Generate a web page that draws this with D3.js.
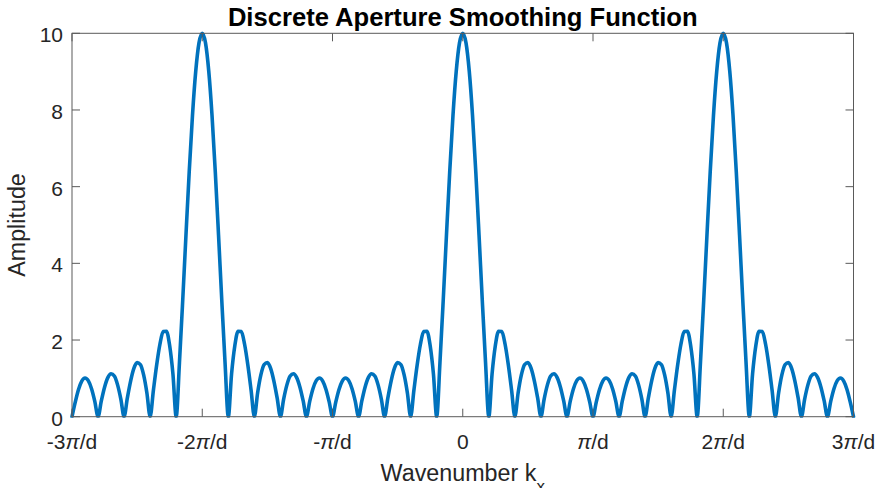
<!DOCTYPE html>
<html>
<head>
<meta charset="utf-8">
<script src="https://cdn.jsdelivr.net/npm/d3@7"></script>
<style>
  html, body { margin: 0; padding: 0; background: #ffffff; }
  svg { display: block; }
  text { font-family: "Liberation Sans", Arial, Helvetica, sans-serif; fill: #262626; }
</style>
</head>
<body>
<svg id="chart" width="884" height="488"></svg>
<script>
// Wavenumber sample positions, in units of pi/d
const kx = [
  -3, -2.975, -2.95, -2.925, -2.9, -2.875, -2.85, -2.825, -2.8, -2.775, -2.75, -2.725, -2.7, -2.675, -2.65, -2.625, -2.6, -2.575, -2.55, -2.525,
  -2.5, -2.475, -2.45, -2.425, -2.4, -2.375, -2.35, -2.325, -2.3, -2.275, -2.25, -2.225, -2.2, -2.175, -2.15, -2.125, -2.1, -2.075, -2.05, -2.025,
  -2, -1.975, -1.95, -1.925, -1.9, -1.875, -1.85, -1.825, -1.8, -1.775, -1.75, -1.725, -1.7, -1.675, -1.65, -1.625, -1.6, -1.575, -1.55, -1.525,
  -1.5, -1.475, -1.45, -1.425, -1.4, -1.375, -1.35, -1.325, -1.3, -1.275, -1.25, -1.225, -1.2, -1.175, -1.15, -1.125, -1.1, -1.075, -1.05, -1.025,
  -1, -0.975, -0.95, -0.925, -0.9, -0.875, -0.85, -0.825, -0.8, -0.775, -0.75, -0.725, -0.7, -0.675, -0.65, -0.625, -0.6, -0.575, -0.55, -0.525,
  -0.5, -0.475, -0.45, -0.425, -0.4, -0.375, -0.35, -0.325, -0.3, -0.275, -0.25, -0.225, -0.2, -0.175, -0.15, -0.125, -0.1, -0.075, -0.05, -0.025,
  0, 0.025, 0.05, 0.075, 0.1, 0.125, 0.15, 0.175, 0.2, 0.225, 0.25, 0.275, 0.3, 0.325, 0.35, 0.375, 0.4, 0.425, 0.45, 0.475,
  0.5, 0.525, 0.55, 0.575, 0.6, 0.625, 0.65, 0.675, 0.7, 0.725, 0.75, 0.775, 0.8, 0.825, 0.85, 0.875, 0.9, 0.925, 0.95, 0.975,
  1, 1.025, 1.05, 1.075, 1.1, 1.125, 1.15, 1.175, 1.2, 1.225, 1.25, 1.275, 1.3, 1.325, 1.35, 1.375, 1.4, 1.425, 1.45, 1.475,
  1.5, 1.525, 1.55, 1.575, 1.6, 1.625, 1.65, 1.675, 1.7, 1.725, 1.75, 1.775, 1.8, 1.825, 1.85, 1.875, 1.9, 1.925, 1.95, 1.975,
  2, 2.025, 2.05, 2.075, 2.1, 2.125, 2.15, 2.175, 2.2, 2.225, 2.25, 2.275, 2.3, 2.325, 2.35, 2.375, 2.4, 2.425, 2.45, 2.475,
  2.5, 2.525, 2.55, 2.575, 2.6, 2.625, 2.65, 2.675, 2.7, 2.725, 2.75, 2.775, 2.8, 2.825, 2.85, 2.875, 2.9, 2.925, 2.95, 2.975,
  3
];

// Amplitude read at each sample position
const amplitude = [
  0, 0.38, 0.71, 0.93, 1.01, 0.94, 0.73, 0.40, 0, 0.41, 0.77, 1.02, 1.12, 1.06, 0.83, 0.46, 0, 0.49, 0.93, 1.26,
  1.41, 1.36, 1.09, 0.62, 0, 0.69, 1.35, 1.89, 2.22, 2.23, 1.85, 1.11, 0, 1.41, 3.03, 4.74, 6.39, 7.86, 9.01, 9.75,
  10, 9.75, 9.01, 7.86, 6.39, 4.74, 3.03, 1.41, 0, 1.11, 1.85, 2.23, 2.22, 1.89, 1.35, 0.69, 0, 0.62, 1.09, 1.36,
  1.41, 1.26, 0.93, 0.49, 0, 0.46, 0.83, 1.06, 1.12, 1.02, 0.77, 0.41, 0, 0.40, 0.73, 0.94, 1.01, 0.93, 0.71, 0.38,
  0, 0.38, 0.71, 0.93, 1.01, 0.94, 0.73, 0.40, 0, 0.41, 0.77, 1.02, 1.12, 1.06, 0.83, 0.46, 0, 0.49, 0.93, 1.26,
  1.41, 1.36, 1.09, 0.62, 0, 0.69, 1.35, 1.89, 2.22, 2.23, 1.85, 1.11, 0, 1.41, 3.03, 4.74, 6.39, 7.86, 9.01, 9.75,
  10, 9.75, 9.01, 7.86, 6.39, 4.74, 3.03, 1.41, 0, 1.11, 1.85, 2.23, 2.22, 1.89, 1.35, 0.69, 0, 0.62, 1.09, 1.36,
  1.41, 1.26, 0.93, 0.49, 0, 0.46, 0.83, 1.06, 1.12, 1.02, 0.77, 0.41, 0, 0.40, 0.73, 0.94, 1.01, 0.93, 0.71, 0.38,
  0, 0.38, 0.71, 0.93, 1.01, 0.94, 0.73, 0.40, 0, 0.41, 0.77, 1.02, 1.12, 1.06, 0.83, 0.46, 0, 0.49, 0.93, 1.26,
  1.41, 1.36, 1.09, 0.62, 0, 0.69, 1.35, 1.89, 2.22, 2.23, 1.85, 1.11, 0, 1.41, 3.03, 4.74, 6.39, 7.86, 9.01, 9.75,
  10, 9.75, 9.01, 7.86, 6.39, 4.74, 3.03, 1.41, 0, 1.11, 1.85, 2.23, 2.22, 1.89, 1.35, 0.69, 0, 0.62, 1.09, 1.36,
  1.41, 1.26, 0.93, 0.49, 0, 0.46, 0.83, 1.06, 1.12, 1.02, 0.77, 0.41, 0, 0.40, 0.73, 0.94, 1.01, 0.93, 0.71, 0.38,
  0
];

const xTickValues = [-3, -2, -1, 0, 1, 2, 3];
const xTickPrefix = ["-3", "-2", "-", "0", "", "2", "3"]; // text before the pi symbol
const xTickHasPi  = [true, true, true, false, true, true, true];
const yTickValues = [0, 2, 4, 6, 8, 10];

const titleText = "Discrete Aperture Smoothing Function";
const xLabelText = "Wavenumber k";
const xLabelSub = "x";
const yLabelText = "Amplitude";

const svg = d3.select("#chart");
const pLeft = 72, pRight = 853.5, pTop = 33.3, pBottom = 416.7;

const x = d3.scaleLinear().domain([-3, 3]).range([pLeft, pRight]);
const y = d3.scaleLinear().domain([0, 10]).range([pBottom, pTop]);

const axisColor = "#5a5a5a";
const tickLen = 8;

// curve
const pts = kx.map((k, i) => [k, amplitude[i]]);
svg.append("defs").append("clipPath").attr("id", "clip")
  .append("rect").attr("x", pLeft - 3).attr("y", pTop - 4).attr("width", pRight - pLeft + 6).attr("height", pBottom - pTop + 5);

svg.append("path")
  .datum(pts)
  .attr("clip-path", "url(#clip)")
  .attr("fill", "none")
  .attr("stroke", "#0072BD")
  .attr("stroke-width", 3.6)
  .attr("stroke-linejoin", "round")
  .attr("stroke-linecap", "round")
  .attr("d", d3.line().x(d => x(d[0])).y(d => y(d[1])).curve(d3.curveMonotoneX));

// box
const g = svg.append("g");
g.append("rect")
  .attr("x", pLeft).attr("y", pTop)
  .attr("width", pRight - pLeft).attr("height", pBottom - pTop)
  .attr("fill", "none").attr("stroke", axisColor).attr("stroke-width", 1);

// x ticks (bottom, top, inward)
xTickValues.forEach(v => {
  const xx = x(v);
  g.append("line").attr("x1", xx).attr("x2", xx).attr("y1", pBottom).attr("y2", pBottom - tickLen)
    .attr("stroke", axisColor).attr("stroke-width", 1);
  g.append("line").attr("x1", xx).attr("x2", xx).attr("y1", pTop).attr("y2", pTop + tickLen)
    .attr("stroke", axisColor).attr("stroke-width", 1);
});
// y ticks (left, right, inward)
yTickValues.forEach(v => {
  const yy = y(v);
  g.append("line").attr("x1", pLeft).attr("x2", pLeft + tickLen).attr("y1", yy).attr("y2", yy)
    .attr("stroke", axisColor).attr("stroke-width", 1);
  g.append("line").attr("x1", pRight).attr("x2", pRight - tickLen).attr("y1", yy).attr("y2", yy)
    .attr("stroke", axisColor).attr("stroke-width", 1);
});

// x tick labels
xTickValues.forEach((v, i) => {
  const t = svg.append("text")
    .attr("x", x(v)).attr("y", 449)
    .attr("text-anchor", "middle")
    .attr("font-size", 21);
  t.append("tspan").text(xTickPrefix[i]);
  if (xTickHasPi[i]) {
    t.append("tspan").attr("font-style", "italic").text("\u03C0");
    t.append("tspan").text("/d");
  }
});

// y tick labels
yTickValues.forEach(v => {
  svg.append("text")
    .attr("x", pLeft - 9).attr("y", y(v) + 9)
    .attr("text-anchor", "end")
    .attr("font-size", 21)
    .text(v);
});

// title
svg.append("text")
  .attr("x", (pLeft + pRight) / 2).attr("y", 26)
  .attr("text-anchor", "middle")
  .attr("font-size", 25.6)
  .attr("font-weight", "bold")
  .style("fill", "#000000")
  .text(titleText);

// x label
const xl = svg.append("text")
  .attr("x", (pLeft + pRight) / 2).attr("y", 481)
  .attr("text-anchor", "middle")
  .attr("font-size", 23.3);
xl.append("tspan").text(xLabelText);
xl.append("tspan").attr("font-size", 17).attr("dy", 11).text(xLabelSub);

// y label
svg.append("text")
  .attr("transform", `translate(25, ${(pTop + pBottom) / 2}) rotate(-90)`)
  .attr("text-anchor", "middle")
  .attr("font-size", 23.3)
  .text(yLabelText);
</script>
</body>
</html>
